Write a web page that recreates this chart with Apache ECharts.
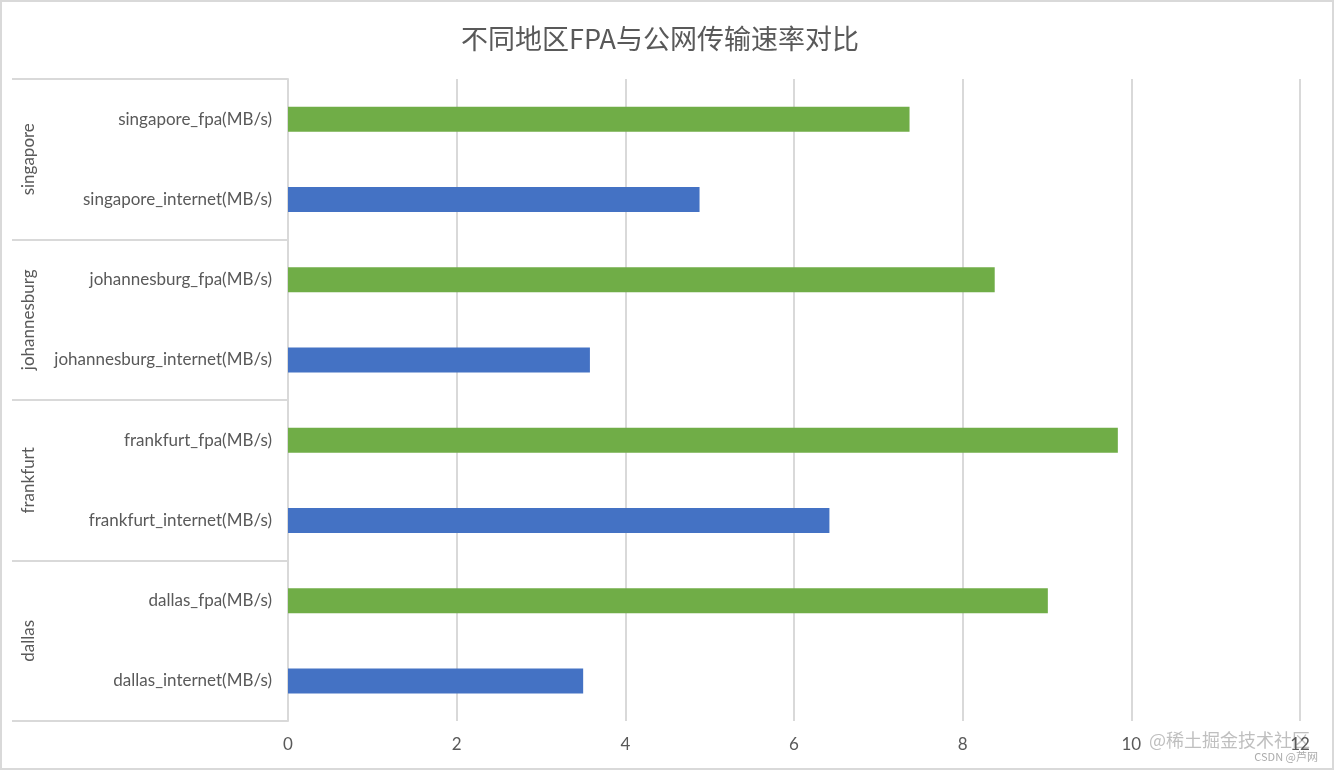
<!DOCTYPE html>
<html>
<head>
<meta charset="utf-8">
<title>不同地区FPA与公网传输速率对比</title>
<script src="https://cdn.jsdelivr.net/npm/echarts@6/dist/echarts.min.js"></script>
<style>
  html, body { margin: 0; padding: 0; background: #fff; }
  #main { width: 1334px; height: 770px; box-sizing: border-box; border: 2px solid #d9d9d9; }
</style>
</head>
<body>
<div id="main"></div>
<script>
// data (top to bottom)
const categories = [
  'singapore_fpa(MB/s)', 'singapore_internet(MB/s)',
  'johannesburg_fpa(MB/s)', 'johannesburg_internet(MB/s)',
  'frankfurt_fpa(MB/s)', 'frankfurt_internet(MB/s)',
  'dallas_fpa(MB/s)', 'dallas_internet(MB/s)'
]
const speeds = [7.37, 4.88, 8.38, 3.58, 9.84, 6.42, 9.01, 3.5]
const regions = ['singapore', 'johannesburg', 'frankfurt', 'dallas']

const textColor = '#595959'
const lineColor = '#d9d9d9'

var myChart = echarts.init(document.getElementById('main'))

var option = {
  backgroundColor: '#fff',
  title: {
    text: '不同地区FPA与公网传输速率对比',
    left: 454,
    top: 18,
    textStyle: {
      fontFamily: 'Noto Sans CJK SC',
      fontSize: 27,
      fontWeight: 'normal',
      color: textColor
    }
  },
  grid: {
    left: 286,
    right: 32,
    top: 77,
    bottom: 47,
    containLabel: false
  },
  xAxis: {
    type: 'value',
    min: 0,
    max: 12,
    interval: 2,
    axisLine: { show: false },
    axisTick: { show: false },
    splitLine: { lineStyle: { color: lineColor, width: 2 } },
    axisLabel: {
      color: textColor,
      fontFamily: 'Lato',
      fontSize: 17,
      margin: 15
    }
  },
  yAxis: [
    {
      type: 'category',
      inverse: true,
      data: categories,
      axisLine: { lineStyle: { color: lineColor, width: 2 } },
      axisTick: { show: false },
      axisLabel: {
        color: textColor,
        fontFamily: 'Lato',
        fontSize: 17,
        margin: 16
      }
    },
    {
      // outer level: regions, drawn as boxes to the left of the labels
      type: 'category',
      inverse: true,
      position: 'left',
      data: regions,
      axisLine: { show: false },
      axisTick: {
        show: true,
        length: 276,
        lineStyle: { color: lineColor, width: 2 }
      },
      axisLabel: {
        rotate: 90,
        color: textColor,
        fontFamily: 'Lato',
        fontSize: 17,
        margin: 251
      }
    }
  ],
  series: [
    {
      type: 'bar',
      yAxisIndex: 0,
      barWidth: 25,
      data: speeds.map((v, i) => ({
        value: v,
        itemStyle: { color: categories[i].indexOf('_fpa') > 0 ? '#70ad47' : '#4472c4' }
      }))
    }
  ],
  graphic: [
    {
      type: 'text',
      right: 22,
      bottom: 19,
      style: {
        text: '@稀土掘金技术社区',
        fontFamily: 'Noto Sans CJK SC',
        fontSize: 18,
        fill: 'rgba(170,170,170,0.75)'
      }
    },
    {
      type: 'text',
      right: 14,
      bottom: 6,
      style: {
        text: 'CSDN @芦网',
        fontFamily: 'Noto Sans CJK SC',
        fontSize: 11,
        fill: 'rgba(150,150,150,0.8)'
      }
    }
  ]
}

myChart.setOption(option)
window.onresize = () => {
  myChart.resize()
}
</script>
</body>
</html>
